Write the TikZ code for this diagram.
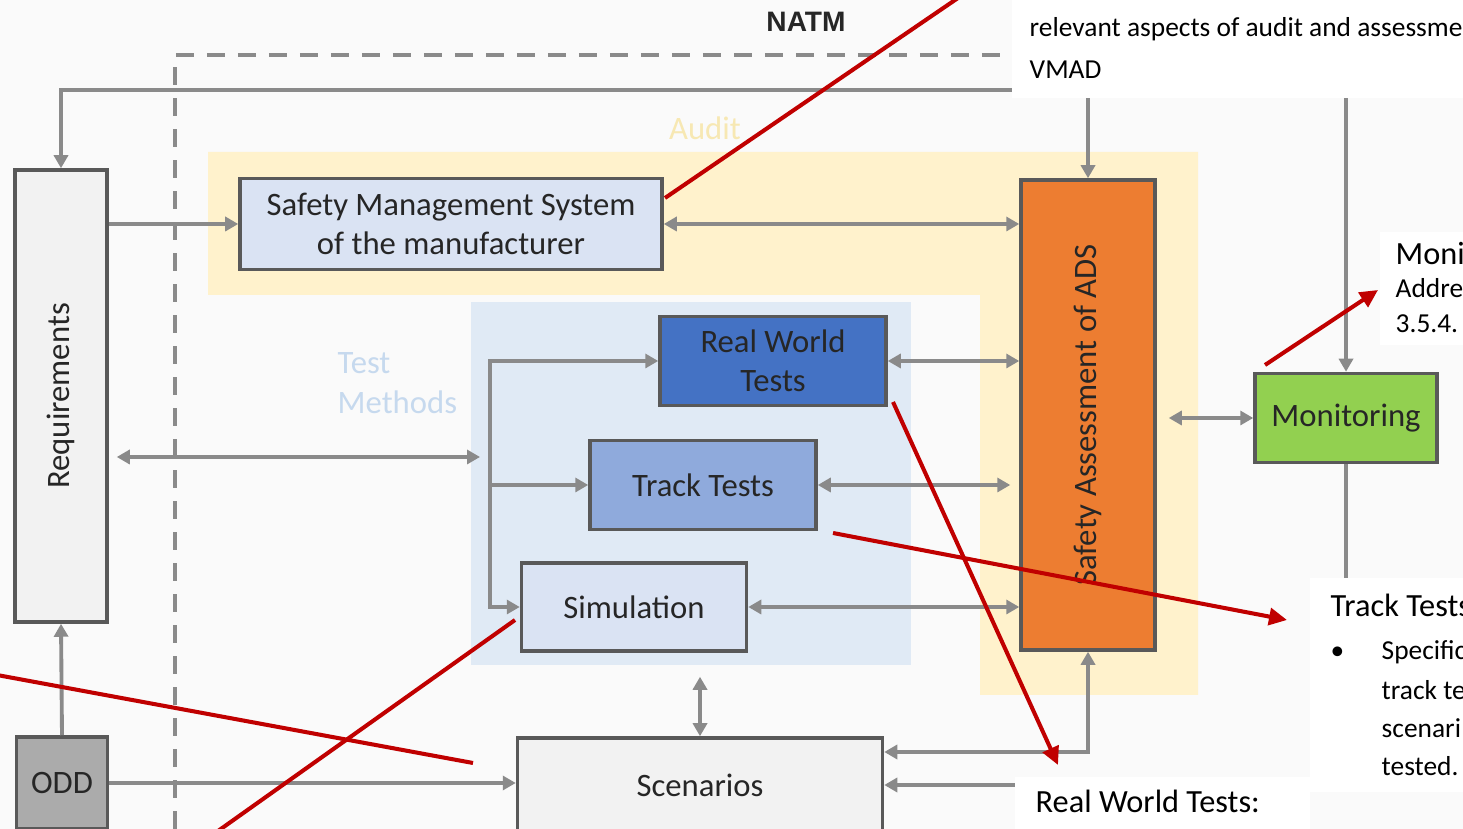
\documentclass[tikz,border=0pt]{standalone}
\usepackage{fontspec}
\setmainfont{Carlito}
\newfontfamily\headfont{Liberation Sans}
\usetikzlibrary{positioning,arrows.meta}

\definecolor{frame}{HTML}{595959}
\definecolor{link}{HTML}{8A8A8A}
\definecolor{auditbg}{HTML}{FFF2CC}
\definecolor{auditlbl}{HTML}{F7E8B3}
\definecolor{testbg}{HTML}{E0EAF5}
\definecolor{testlbl}{HTML}{C6D9EE}
\definecolor{reqfill}{HTML}{F2F2F2}
\definecolor{simfill}{HTML}{DAE3F3}
\definecolor{trackfill}{HTML}{8FAADC}
\definecolor{realfill}{HTML}{4472C4}
\definecolor{assessfill}{HTML}{ED7D31}
\definecolor{monfill}{HTML}{92D050}
\definecolor{oddfill}{HTML}{ABABAB}
\definecolor{notered}{HTML}{C00000}

\begin{document}
\begin{tikzpicture}[x=0.1mm, y=-0.1mm,
  box/.style={draw=frame, line width=1pt, inner sep=0pt, align=center,
    text=black!85, font=\fontsize{9.3}{11.2}\selectfont},
  arr/.style={draw=link, line width=1.1pt, -{Triangle[length=1.3mm, width=1.4mm]}},
  biarr/.style={draw=link, line width=1.1pt,
    {Triangle[length=1.3mm, width=1.4mm]}-{Triangle[length=1.3mm, width=1.4mm]}},
  natm/.style={draw=link, line width=1.2pt, dash pattern=on 1.8mm off 1.3mm},
  area/.style={inner sep=0pt, align=left, font=\fontsize{9.3}{11.4}\selectfont},
  cover/.style={fill=white},
  callout/.style={anchor=base west, inner sep=0pt, text=black,
    font=\fontsize{7.8}{9}\selectfont},
  callhead/.style={callout, font=\fontsize{9.2}{11}\selectfont},
  redline/.style={draw=notered, line width=1.15pt},
  redarr/.style={redline, -{Triangle[length=1.8mm, width=1.7mm]}}
]
\useasboundingbox (0,0) rectangle (1463,829);
\clip (0,0) rectangle (1463,829);
\fill[white!98!black] (0,0) rectangle (1463,829);

% audit and test method areas
\fill[auditbg] (208,152) -- (1198,152) -- (1198,695) -- (980,695)
  -- (980,295) -- (208,295) -- cycle;
\fill[testbg] (471,302) rectangle (911,665);
\node[area, text=auditlbl] (auditlbl) at (705,128) {Audit};
\node[area, text=testlbl, anchor=west] (testlbl) at (337,383) {Test\\Methods};

% NATM frame
\draw[natm] (175,829) -- (175,55) -- (1012,55);
\node[font={\headfont\bfseries\fontsize{8}{10}\selectfont}, text=black!85] (natmlbl) at (806,22) {NATM};

\node[box, fill=reqfill, minimum width=9.2mm, minimum height=45.2mm] (req) at (61,396) {\rotatebox{90}{Requirements}};
\node[box, fill=oddfill, minimum width=9.1mm, minimum height=9.2mm] (odd) at (62,783) {ODD};
\node[box, fill=simfill, minimum width=42.2mm, minimum height=9.1mm] (sms) at (451,224) {Safety Management System\\of the manufacturer};
\node[box, fill=realfill, minimum width=22.6mm, minimum height=8.9mm] (rwt) at (773,361) {Real World\\Tests};
\node[box, fill=trackfill, minimum width=22.6mm, minimum height=8.9mm] (tt) at (703,485) {Track Tests};
\node[box, fill=simfill, minimum width=22.5mm, minimum height=8.8mm] (sim) at (634,607) {Simulation};
\node[box, fill=reqfill, minimum width=36.5mm, minimum height=9.4mm] (scen) at (700,785) {Scenarios};
\node[box, fill=assessfill, minimum width=13.4mm, minimum height=47mm] (saa) at (1088,415) {\rotatebox{90}{Safety Assessment of ADS}};
\node[box, fill=monfill, minimum width=18.2mm, minimum height=8.9mm] (mon) at (1346,418) {Monitoring};

\coordinate (rail) at (0,90);
\coordinate (fork) at (490,457);
\draw[arr] (mon.north |- rail) -| (req.north);
\draw[arr] (saa.north |- rail) -- (saa.north);
\draw[arr] (mon.north |- rail) -- (mon.north);
\draw[arr] (req.east |- sms.west) -- (sms.west);
\draw[biarr] (sms.east) -- (saa.west |- sms.east);
\draw[biarr, shorten <=0.8mm, shorten >=1mm] (req.east |- fork) -- (fork);
\draw[arr] (fork) |- (rwt.west);
\draw[arr] (fork) |- (sim.west);
\draw[arr] (fork |- tt.west) -- (tt.west);
\draw[biarr] (rwt.east) -- (saa.west |- rwt.east);
\draw[biarr, shorten >=0.9mm] (tt.east) -- (saa.west |- tt.east);
\draw[biarr] (sim.east) -- (saa.west |- sim.east);
\draw[biarr, shorten <=1.2mm] (saa.east |- mon.west) -- (mon.west);
\draw[biarr, shorten >=2.4mm] (scen.north) -- (scen.north |- sim.south);
\draw[biarr] (saa.south) |- ([yshift=3.3mm]scen.east);
\draw[arr] (mon.south) |- (scen.east);
\draw[arr] (odd.north) -- (req.south);
\draw[arr] (odd.east) -- (scen.west |- odd.east);

% callout boxes
\fill[cover] (1012,0) rectangle (1463,98);
\fill[cover] (1380,232) rectangle (1463,345);
\fill[cover] (1310,578) rectangle (1463,792);
\fill[cover] (1015,777) rectangle (1310,829);

\node[callout] (vmadnote) at (1029,37) {relevant aspects of audit and assessme};
\node[callout] (vmad) at (1029,79) {VMAD};
\node[callhead] (monnote) at (1395,265) {Moni};
\node[callout] (monaddr) at (1395,298) {Addre};
\node[callout] (monsec) at (1395,333) {3.5.4.};
\node[callhead] (ttnote) at (1330,617) {Track Tests};
\node[callout] (ttbullet) at (1330,660) {\textbullet};
\node[callout] (ttline1) at (1381,660) {Specific};
\node[callout] (ttline2) at (1381,700) {track te};
\node[callout] (ttline3) at (1381,738) {scenari};
\node[callout] (ttline4) at (1381,776) {tested.};
\node[callhead] (rwtnote) at (1035,812) {Real World Tests:};

% red pointers
\coordinate (p1) at (665,198);
\coordinate (p2) at (958,-2);
\coordinate (p3) at (1265,365);
\coordinate (p4) at (1378,290);
\coordinate (p5) at (893,402);
\coordinate (p6) at (1058,765);
\coordinate (p7) at (833,533);
\coordinate (p8) at (1287,620);
\coordinate (p9) at (-3,675);
\coordinate (p10) at (473,763);
\coordinate (p11) at (515,620);
\coordinate (p12) at (218,831);
\draw[redline] (p1) -- (p2);
\draw[redarr] (p3) -- (p4);
\draw[redarr] (p5) -- (p6);
\draw[redarr] (p7) -- (p8);
\draw[redline] (p9) -- (p10);
\draw[redline] (p11) -- (p12);
\end{tikzpicture}
\end{document}
